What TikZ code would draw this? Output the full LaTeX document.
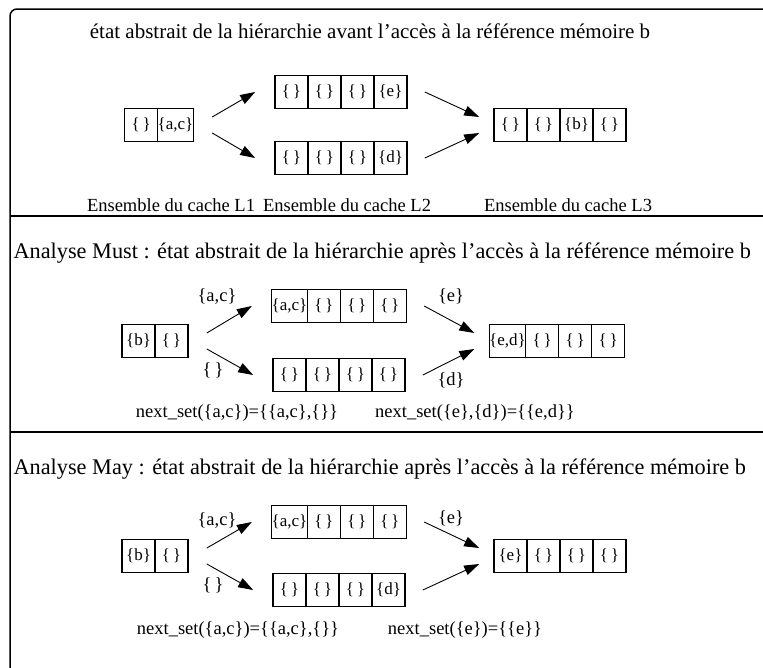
\documentclass[tikz,border=0pt]{standalone}
\usepackage{fontspec}
\setmainfont{Liberation Serif}
\usetikzlibrary{matrix,arrows.meta}
\tikzset{
  cell/.style={draw, line width=1.3pt, minimum width=33pt, minimum height=33pt,
    inner sep=0pt, outer sep=0pt, font=\fontsize{17}{17}\selectfont},
  cacheset/.style={matrix of nodes, nodes={cell}, column sep=-1.3pt, inner sep=0pt},
  fleche/.style={-{Triangle[length=15pt,width=10pt]}, line width=0.9pt},
  txt/.style={font=\fontsize{18.5}{20}\selectfont},
  titre/.style={font=\fontsize{22.3}{24}\selectfont},
}
\begin{document}
\begin{tikzpicture}[x=1pt,y=-1pt]
\useasboundingbox (0,0) rectangle (763,667);
\draw [line width=1.5pt, rounded corners=7pt] (10,670) -- (10,9) -- (770,9); % cadre
\draw [line width=1.5pt] (10,216) -- (770,216); % separation
\draw [line width=1.5pt] (10,432) -- (770,432);

% avant l'acces
\node[titre, font=\fontsize{21}{23}\selectfont] (t1) at (370,31) {état abstrait de la hiérarchie avant l’accès à la référence mémoire b};
\matrix (a1) [cacheset] at (159,125) {\{\,\} & \{a,c\}\\};
\matrix (a2h) [cacheset] at (341,92) {\{\,\} & \{\,\} & \{\,\} & \{e\}\\};
\matrix (a2b) [cacheset] at (341,158) {\{\,\} & \{\,\} & \{\,\} & \{d\}\\};
\matrix (a3) [cacheset] at (560,125) {\{\,\} & \{\,\} & \{b\} & \{\,\}\\};
\draw [fleche] ([xshift=18pt,yshift=8pt]a1.east) -- ([xshift=-19pt]a2h.west);
\draw [fleche] ([xshift=18pt,yshift=-8pt]a1.east) -- ([xshift=-19pt]a2b.west);
\draw [fleche] ([xshift=17pt]a2h.east) -- ([xshift=-14pt,yshift=8pt]a3.west);
\draw [fleche] ([xshift=17pt]a2b.east) -- ([xshift=-14pt,yshift=-8pt]a3.west);
\node[txt] (e1) at (171,205) {Ensemble du cache L1};
\node[txt] (e2) at (347,205) {Ensemble du cache L2};
\node[txt] (e3) at (568,205) {Ensemble du cache L3};

% analyse Must
\node[titre, anchor=west] (t2) at (10,253) {Analyse Must : état abstrait de la hiérarchie après l’accès à la référence mémoire b};
\matrix (m1) [cacheset] at (155,341) {\{b\} & \{\,\}\\};
\matrix (m2h) [cacheset] at (339,306) {\{a,c\} & \{\,\} & \{\,\} & \{\,\}\\};
\matrix (m2b) [cacheset] at (339,375) {\{\,\} & \{\,\} & \{\,\} & \{\,\}\\};
\matrix (m3) [cacheset] at (557,341) {\{e,d\} & \{\,\} & \{\,\} & \{\,\}\\};
\draw [fleche] ([xshift=18pt,yshift=8pt]m1.east) -- ([xshift=-19pt]m2h.west);
\draw [fleche] ([xshift=18pt,yshift=-8pt]m1.east) -- ([xshift=-19pt]m2b.west);
\draw [fleche] ([xshift=17pt]m2h.east) -- ([xshift=-14pt,yshift=8pt]m3.west);
\draw [fleche] ([xshift=17pt]m2b.east) -- ([xshift=-14pt,yshift=-8pt]m3.west);
\node[txt] (m1l1) at (217,296) {\{a,c\}};
\node[txt] (m1l2) at (213,370) {\{\,\}};
\node[txt] (m2l1) at (451,296) {\{e\}};
\node[txt] (m2l2) at (451,380) {\{d\}};
\node[txt] (mf1) at (237,413) {next\_set(\{a,c\})=\{\{a,c\},\{\}\}};
\node[txt] (mf2) at (475,413) {next\_set(\{e\},\{d\})=\{\{e,d\}\}};

% analyse May
\node[titre, anchor=west] (t3) at (10,469) {Analyse May : état abstrait de la hiérarchie après l’accès à la référence mémoire b};
\matrix (y1) [cacheset] at (155,556) {\{b\} & \{\,\}\\};
\matrix (y2h) [cacheset] at (339,522) {\{a,c\} & \{\,\} & \{\,\} & \{\,\}\\};
\matrix (y2b) [cacheset] at (339,590) {\{\,\} & \{\,\} & \{\,\} & \{d\}\\};
\matrix (y3) [cacheset] at (560,556) {\{e\} & \{\,\} & \{\,\} & \{\,\}\\};
\draw [fleche] ([xshift=18pt,yshift=8pt]y1.east) -- ([xshift=-19pt]y2h.west);
\draw [fleche] ([xshift=18pt,yshift=-8pt]y1.east) -- ([xshift=-19pt]y2b.west);
\draw [fleche] ([xshift=17pt]y2h.east) -- ([xshift=-14pt,yshift=8pt]y3.west);
\draw [fleche] ([xshift=17pt]y2b.east) -- ([xshift=-14pt,yshift=-8pt]y3.west);
\node[txt] (y1l1) at (217,520) {\{a,c\}};
\node[txt] (y1l2) at (213,585) {\{\,\}};
\node[txt] (y2l1) at (451,518) {\{e\}};
\node[txt] (yf1) at (238,630) {next\_set(\{a,c\})=\{\{a,c\},\{\}\}};
\node[txt] (yf2) at (465,630) {next\_set(\{e\})=\{\{e\}\}};
\end{tikzpicture}
\end{document}
